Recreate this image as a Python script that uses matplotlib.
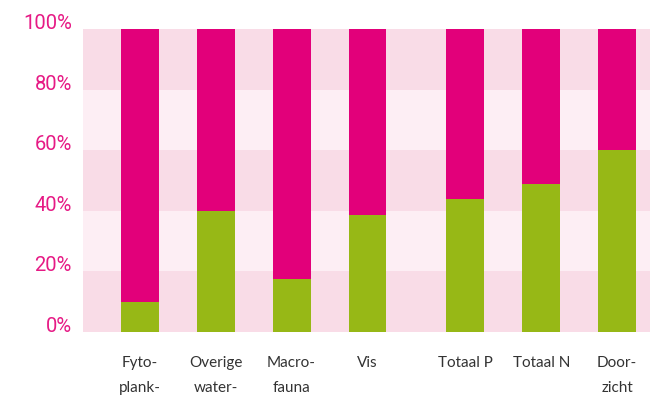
import matplotlib
matplotlib.use("Agg")
import matplotlib.pyplot as plt
import numpy as np

categories = ["Fyto-\nplank-", "Overige\nwater-", "Macro-\nfauna", "Vis",
              "Totaal P", "Totaal N", "Door-\nzicht"]
positions = [0, 1, 2, 3, 4.29, 5.29, 6.29]
green_vals = [10, 40, 17.5, 38.6, 44, 49, 60]
pink_vals = [100 - v for v in green_vals]
y_ticks = [0, 20, 40, 60, 80, 100]
y_labels = ["0%", "20%", "40%", "60%", "80%", "100%"]

MAGENTA = "#E2007A"
GREEN = "#97B816"
BAND_DARK = "#F9DCE7"
BAND_LIGHT = "#FDEEF4"

plt.rcParams["font.family"] = ["Lato", "DejaVu Sans"]

fig = plt.figure(figsize=(6.5, 4.03), dpi=100)
ax = fig.add_axes([83 / 650, 71 / 403, 567 / 650, 303 / 403])

# alternating background bands
for i, (lo, hi) in enumerate(zip(y_ticks[:-1], y_ticks[1:])):
    ax.axhspan(lo, hi, color=BAND_DARK if i % 2 == 0 else BAND_LIGHT, lw=0, zorder=0)

ax.bar(positions, green_vals, width=0.5, color=GREEN, zorder=2)
ax.bar(positions, pink_vals, bottom=green_vals, width=0.5, color=MAGENTA, zorder=2)

ax.set_xlim(-0.75, 6.724)
ax.set_ylim(0, 100)
for s in ax.spines.values():
    s.set_visible(False)

ax.set_yticks(y_ticks)
ax.set_yticklabels(y_labels, color="#E61A85", fontsize=14.5, va="baseline",
                   family=["Roboto", "DejaVu Sans"])
ax.tick_params(axis="y", length=0, pad=8)
ax.set_xticks([])

for x, lab in zip(positions, categories):
    ax.text(x, -8, lab, ha="center", va="top", fontsize=11, color="#333333",
            linespacing=2.0, transform=ax.transData, clip_on=False)

fig.savefig("out.png", dpi=100)
